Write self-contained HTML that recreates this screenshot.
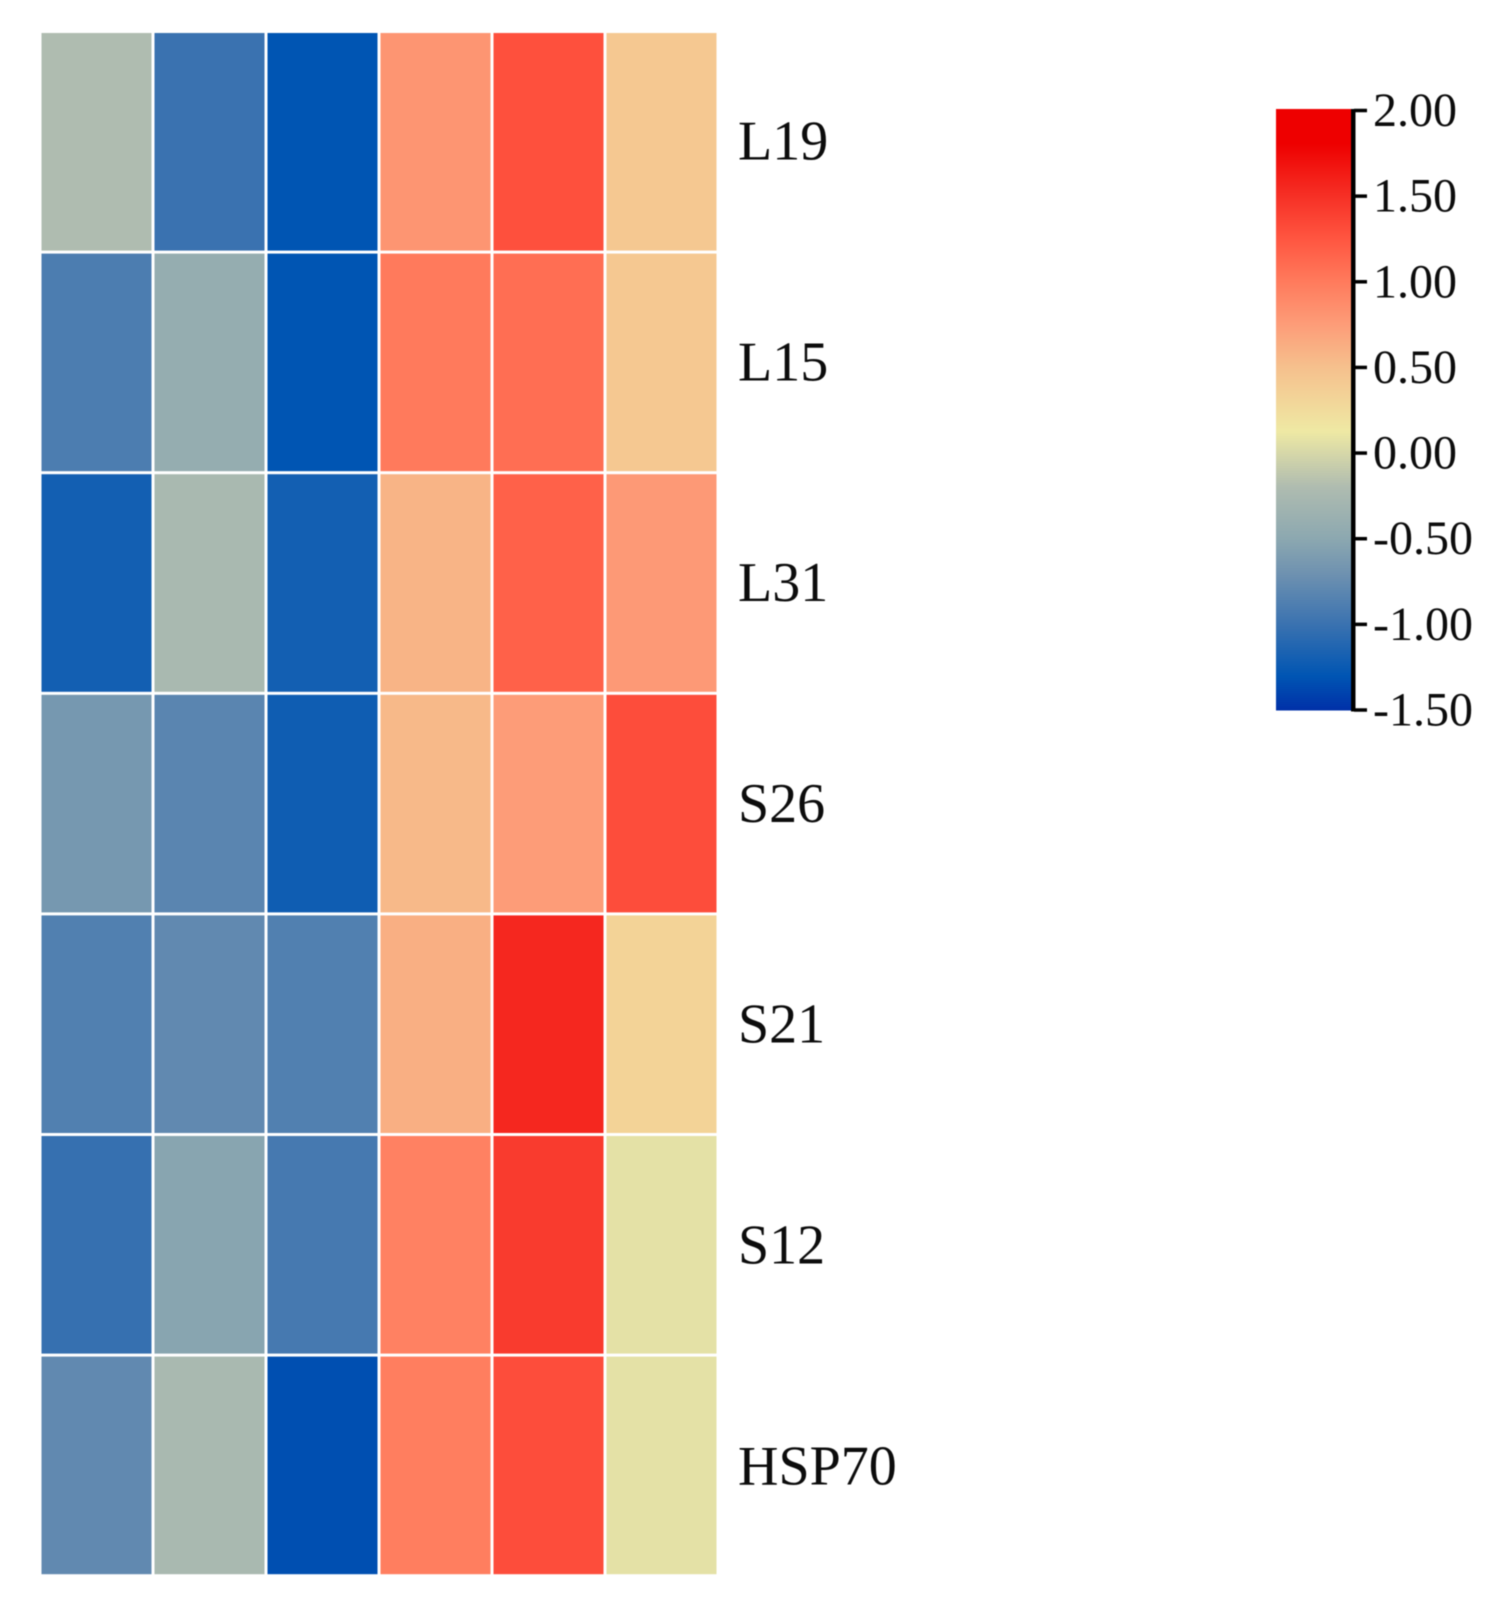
<!DOCTYPE html>
<html lang="en">
<head>
<meta charset="utf-8">
<title>Gene expression heatmap</title>
<style>
  html, body { margin: 0; padding: 0; background: #fff; }
  #chart { display: block; width: 1509px; height: 1613px; filter: blur(0.6px); }
  text { font-family: "Liberation Serif", serif; fill: #0c0c0c; }
</style>
</head>
<body>
<svg id="chart" xmlns="http://www.w3.org/2000/svg" width="1509" height="1613" viewBox="0 0 1509 1613">
  <defs>
    <linearGradient id="cbar-gradient" x1="0" y1="1" x2="0" y2="0"></linearGradient>
  </defs>
  <rect width="1509" height="1613" fill="#fff"></rect>
  <g id="cells"></g>
  <g id="row-labels"></g>
  <g id="colorbar"></g>
</svg>
<script>
const rowNames = ["L19", "L15", "L31", "S26", "S21", "S12", "HSP70"];
const row1 = [-0.20, -1.00, -1.30, 0.80, 1.28, 0.43];
const row2 = [-0.90, -0.42, -1.30, 1.00, 1.08, 0.43];
const row3 = [-1.20, -0.25, -1.20, 0.58, 1.17, 0.77];
const row4 = [-0.65, -0.82, -1.22, 0.55, 0.75, 1.30];
const row5 = [-0.87, -0.78, -0.87, 0.62, 1.55, 0.33];
const row6 = [-1.02, -0.53, -0.93, 0.95, 1.42, 0.07];
const row7 = [-0.78, -0.25, -1.33, 0.97, 1.30, 0.07];
const matrix = [row1, row2, row3, row4, row5, row6, row7];
const tickValues = [2, 1.5, 1, 0.5, 0, -0.5, -1, -1.5];
const tickLabels = ["2.00", "1.50", "1.00", "0.50", "0.00", "-0.50", "-1.00", "-1.50"];
const colorValues = [-1.5, -1.3, -1.0, -0.7, -0.5, -0.2, 0.125, 0.5, 0.75, 1.0, 1.25, 1.5, 1.8, 2.0];
const colorHexes = ["#0030a8", "#0055b3", "#3a72b0", "#6f92b0", "#8ca8b0", "#afbcb0", "#efe9a4", "#f6c08d", "#fd9c78", "#ff7a5c", "#ff5540", "#f62f25", "#ee0000", "#ee0000"];

const SVG_NS = "http://www.w3.org/2000/svg";

function hexToRgb(h) {
  return [parseInt(h.slice(1, 3), 16), parseInt(h.slice(3, 5), 16), parseInt(h.slice(5, 7), 16)];
}
function colorFor(v) {
  if (v <= colorValues[0]) return colorHexes[0];
  for (let i = 1; i < colorValues.length; i++) {
    if (v <= colorValues[i]) {
      const t = (v - colorValues[i - 1]) / (colorValues[i] - colorValues[i - 1]);
      const a = hexToRgb(colorHexes[i - 1]);
      const b = hexToRgb(colorHexes[i]);
      const c = a.map((x, k) => Math.round(x + (b[k] - x) * t));
      return "rgb(" + c.join(",") + ")";
    }
  }
  return colorHexes[colorHexes.length - 1];
}

const gridLeft = 41.5, gridTop = 33, pitchX = 113, pitchY = 220.6, gap = 3;
function xCell(c) { return gridLeft + c * pitchX; }
function yCell(r) { return gridTop + r * pitchY; }
function yLabel(r) { return 159.5 + r * 220.8; }

const cbarTopV = Math.max(...tickValues), cbarBotV = Math.min(...tickValues);
function yBar(v) { return 710 + (v - cbarBotV) / (cbarTopV - cbarBotV) * (110.5 - 710); }

const cellsG = document.getElementById("cells");
matrix.forEach(function (vals, r) {
  vals.forEach(function (v, c) {
    const rect = document.createElementNS(SVG_NS, "rect");
    rect.setAttribute("x", xCell(c));
    rect.setAttribute("y", yCell(r));
    rect.setAttribute("width", pitchX - gap);
    rect.setAttribute("height", pitchY - gap);
    rect.setAttribute("fill", colorFor(v));
    
    
    cellsG.appendChild(rect);
  });
});

const labelsG = document.getElementById("row-labels");
rowNames.forEach(function (name, r) {
  const t = document.createElementNS(SVG_NS, "text");
  t.setAttribute("x", 738);
  t.setAttribute("y", yLabel(r));
  t.setAttribute("font-size", 56);
  t.textContent = name;
  
  
  labelsG.appendChild(t);
});

const grad = document.getElementById("cbar-gradient");
colorValues.forEach(function (v, i) {
  const s = document.createElementNS(SVG_NS, "stop");
  s.setAttribute("offset", (v - cbarBotV) / (cbarTopV - cbarBotV));
  s.setAttribute("stop-color", colorHexes[i]);
  grad.appendChild(s);
});

const barG = document.getElementById("colorbar");
const bar = document.createElementNS(SVG_NS, "rect");
bar.setAttribute("x", 1276);
bar.setAttribute("y", yBar(cbarTopV) - 1.5);
bar.setAttribute("width", 75);
bar.setAttribute("height", yBar(cbarBotV) - yBar(cbarTopV) + 2);
bar.setAttribute("fill", "url(#cbar-gradient)");


barG.appendChild(bar);

const axis = document.createElementNS(SVG_NS, "rect");
axis.setAttribute("x", 1351);
axis.setAttribute("y", yBar(cbarTopV) - 1.5);
axis.setAttribute("width", 4.5);
axis.setAttribute("height", yBar(cbarBotV) - yBar(cbarTopV) + 3);
axis.setAttribute("fill", "#000");


barG.appendChild(axis);

tickValues.forEach(function (v, i) {
  const tick = document.createElementNS(SVG_NS, "rect");
  tick.setAttribute("x", 1354);
  tick.setAttribute("y", yBar(v) - 1.75);
  tick.setAttribute("width", 13);
  tick.setAttribute("height", 3.5);
  tick.setAttribute("fill", "#000");
  
  
  barG.appendChild(tick);

  const lab = document.createElementNS(SVG_NS, "text");
  lab.setAttribute("x", 1373);
  lab.setAttribute("y", yBar(v) + 15.5);
  lab.setAttribute("font-size", 48);
  lab.textContent = tickLabels[i];
  
  
  barG.appendChild(lab);
});
</script>
</body>
</html>
